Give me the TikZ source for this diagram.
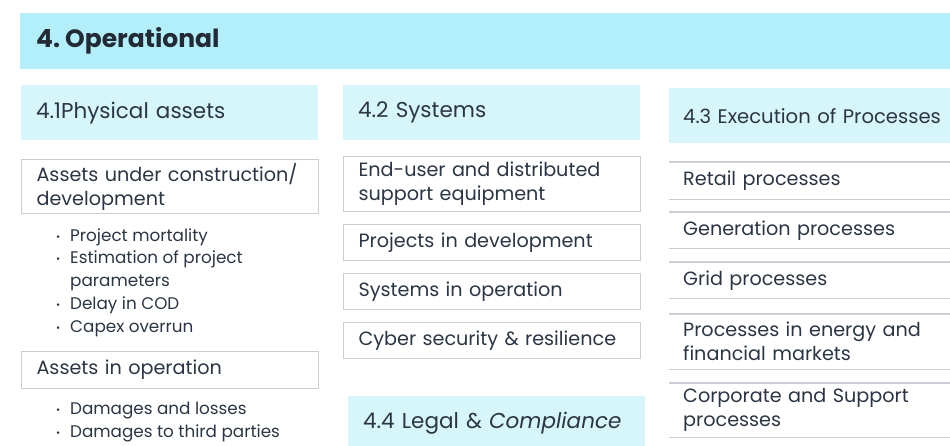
\documentclass[tikz,border=0pt]{standalone}
\usepackage{fontspec}
\setmainfont{Poppins}
\usetikzlibrary{positioning}
\definecolor{bandcyan}{HTML}{B3EFFA}
\definecolor{headcyan}{HTML}{D7F6FC}
\definecolor{rulegray}{HTML}{C9CED4}
\definecolor{inkgray}{HTML}{2B3544}
\newcommand\titlefont{\bfseries\fontsize{25}{30}\selectfont}
\newcommand\headfont{\fontsize{21.5}{26}\selectfont}
\newcommand\itemfont{\fontsize{19.2}{24}\selectfont}
\newcommand\bulfont{\fontsize{16.8}{22.5}\selectfont}
\tikzset{
  band/.style={
    fill = bandcyan,
    anchor = north west,
    inner xsep = 16pt,
    inner ysep = 0pt,
    minimum height = 56pt,
    text width = 900pt,
    align = left,
    text = inkgray!80!black,
    font = \titlefont
  },
  header/.style={
    fill = headcyan,
    anchor = north west,
    inner xsep = 15pt,
    inner ysep = 0pt,
    minimum height = 55pt,
    text width = 267pt,
    align = left,
    text = inkgray,
    font = \headfont
  },
  itembox/.style={
    draw = rulegray,
    line width = 1.1pt,
    anchor = north west,
    inner xsep = 15pt,
    inner ysep = 0pt,
    text width = 267pt,
    align = left,
    text = inkgray,
    font = \itemfont
  },
  procrow/.style={
    anchor = north west,
    inner xsep = 14pt,
    inner ysep = 0pt,
    text width = 280pt,
    align = left,
    text = inkgray,
    font = \itemfont
  },
  rule/.style={
    draw = rulegray,
    line width = 1.1pt
  },
  bullet/.style={
    anchor = base west,
    inner sep = 0pt,
    text = inkgray,
    font = \bulfont
  }
}
\newcommand\bul{\makebox[14pt][l]{\raisebox{1pt}{\scalebox{.6}{•}}}}

\begin{document}
\begin{tikzpicture}[x=1pt,y=-1pt]
  \useasboundingbox (0,0) rectangle (950,446);
  \clip (0,0) rectangle (950,446);
  % title band
  \node[band] (title) at (20,13) {\raisebox{-3pt}{4.\hspace{5pt}Operational}};
  % section headers
  \node[header] (phys) at (21,85) {4.1Physical assets};
  \node[header] (sys) at (343,85) {4.2 Systems};
  \node[header, inner xsep=14pt, text width=280pt, font=\fontsize{19.6}{24}\selectfont] (exec) at (669,88) {4.3 Execution of Processes};
  \node[header] (legal) at (348,396) {4.4 Legal \& \textit{Compliance}};
  % 4.1
  \node[itembox, minimum height=54pt] (acon) at (21,159) {Assets under construction/\\development};
  \node[itembox, minimum height=37pt] (aop) at (21,351) {Assets in operation};
  \foreach \y/\b/\t in {242/\bul/Project mortality, 264/\bul/Estimation of project,
      287/\hspace{14pt}/parameters, 309/\bul/Delay in COD, 332/\bul/Capex overrun,
      414/\bul/Damages and losses, 437/\bul/Damages to third parties}
    \node[bullet] at (56,\y) {\b\t};
  % 4.2
  \node[itembox, minimum height=55pt] (endu) at (343,156) {End-user and distributed\\support equipment};
  \node[itembox, minimum height=36pt] (pdev) at (343,224) {Projects in development};
  \node[itembox, minimum height=36pt] (sop) at (343,273) {Systems in operation};
  \node[itembox, minimum height=36pt] (cyb) at (343,322) {Cyber security \& resilience};
  % 4.3
  \node[procrow, minimum height=37pt] (ret) at (669,162) {Retail processes};
  \node[procrow, minimum height=36pt] (gen) at (669,212) {Generation processes};
  \node[procrow, minimum height=36pt] (grid) at (669,262) {Grid processes};
  \node[procrow, minimum height=55pt] (mkt) at (669,314) {Processes in energy and\\financial markets};
  \node[procrow, minimum height=54pt] (corp) at (669,383) {Corporate and Support\\processes};
  \foreach \n in {ret,gen,grid,mkt,corp}
    \draw[rule] (\n.north west) -- (\n.north east) (\n.south west) -- (\n.south east);
\end{tikzpicture}
\end{document}
